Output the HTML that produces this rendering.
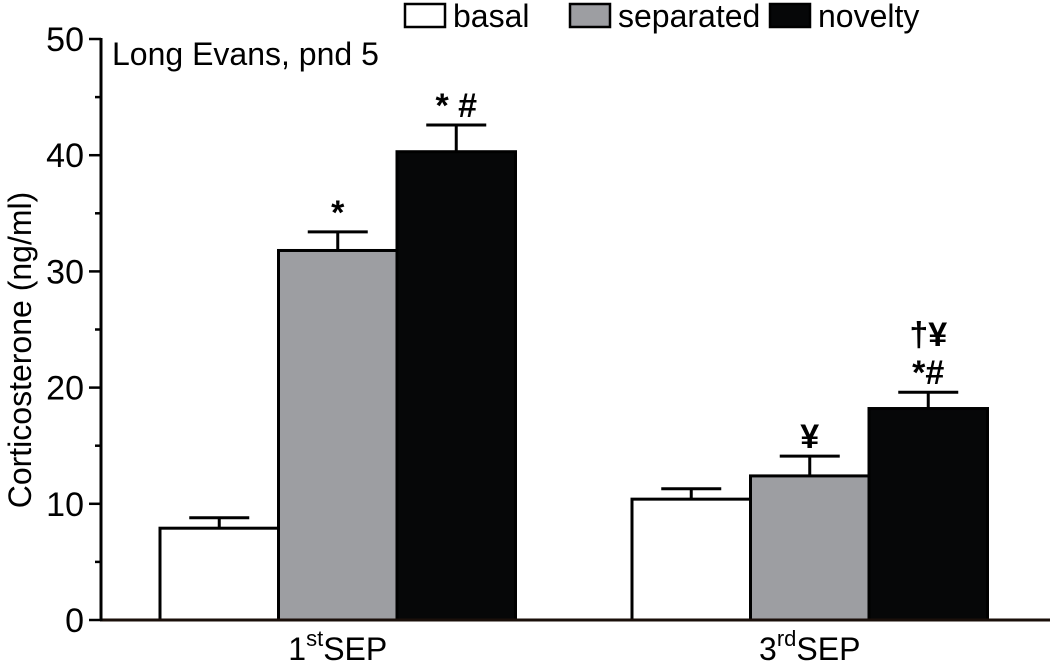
<!DOCTYPE html>
<html><head><meta charset="utf-8"><style>
html,body{margin:0;padding:0;background:#fff;}
svg{display:block;font-family:"Liberation Sans",Arial,sans-serif;}
</style></head><body>
<svg id="chart" width="1050" height="666" viewBox="0 0 1050 666"></svg>
<script>
const groups = ["1st SEP", "3rd SEP"];
const seriesNames = ["basal", "separated", "novelty"];
const basalVals = [7.9, 10.4];
const separatedVals = [31.8, 12.4];
const noveltyVals = [40.3, 18.2];
const basalErr = [0.9, 0.9];
const separatedErr = [1.6, 1.7];
const noveltyErr = [2.3, 1.4];
const annotations = [["", "*", "* #"], ["", "¥", "†¥\n*#"]];
const yTicks = [0, 10, 20, 30, 40, 50];

const NS = "http://www.w3.org/2000/svg";
const svg = document.getElementById("chart");
const y0 = 620, y50 = 39;
function y(v){ return y0 - (v/50)*(y0-y50); }
const groupStart = [160, 632];
const barW = 118.5;
const colors = ["#ffffff", "#9d9ea2", "#060708"];
function el(tag, attrs, parent){
  const e = document.createElementNS(NS, tag);
  for (const k in attrs) e.setAttribute(k, attrs[k]);
  (parent||svg).appendChild(e); return e;
}
const vals = [basalVals, separatedVals, noveltyVals];
const errs = [basalErr, separatedErr, noveltyErr];
for (let g=0; g<groups.length; g++){
  for (let s=0; s<3; s++){
    const x = groupStart[g] + s*barW;
    const v = vals[s][g], e = errs[s][g];
    const cx = x + barW/2;
    const ln = el("line",{x1:cx,x2:cx,y1:y(v),y2:y(v+e),stroke:"#000","stroke-width":3});
    
    
    const cap = el("line",{x1:cx-30,x2:cx+30,y1:y(v+e),y2:y(v+e),stroke:"#000","stroke-width":3});
    
    
    const r = el("rect",{x:x,y:y(v),width:barW,height:y0-y(v),fill:colors[s],stroke:"#000","stroke-width":3});
    
    
    const ann = annotations[g][s];
    if (ann){
      const lines = ann.split("\n");
      const topY = y(v+e) - 8;
      for (let i=0;i<lines.length;i++){
        const t = el("text",{x:cx,y:topY - (lines.length-1-i)*38,"text-anchor":"middle","font-size":34,"font-weight":"bold",fill:"#000"});
        t.textContent = lines[i];
        
        
      }
    }
  }
}
// axes
const xa = el("line",{x1:100,x2:1050,y1:y0,y2:y0,stroke:"#1a0f0a","stroke-width":3});


const ya = el("line",{x1:101,x2:101,y1:y50-1,y2:y0+1,stroke:"#000","stroke-width":3});


for (let v=0; v<=50; v+=5){
  const major = v%10===0;
  const t = el("line",{x1:major?89:95,x2:101,y1:y(v),y2:y(v),stroke:"#000","stroke-width":2.5});
  
  
}
for (const v of yTicks){
  const t = el("text",{x:84,y:y(v)+12,"text-anchor":"end","font-size":34,fill:"#000"});
  t.textContent = v;
  
  
}
const yt = el("text",{x:0,y:0,transform:"translate(31,350) rotate(-90)","text-anchor":"middle","font-size":32,fill:"#000"});
yt.textContent = "Corticosterone (ng/ml)";


const sups = [["1","st"],["3","rd"]];
for (let g=0; g<2; g++){
  const cx = groupStart[g] + 1.5*barW;
  const t = el("text",{x:cx,y:660,"text-anchor":"middle","font-size":32,fill:"#000"});
  
  
  const a = el("tspan",{},t); a.textContent = sups[g][0];
  const b = el("tspan",{"font-size":22,dy:-14},t); b.textContent = sups[g][1];
  const c = el("tspan",{dy:14},t); c.textContent = "SEP";
}
const title = el("text",{x:112,y:65,"font-size":32,fill:"#000"});
title.textContent = "Long Evans, pnd 5";


// legend
const legX = [405, 570, 770];
for (let s=0; s<3; s++){
  const r = el("rect",{x:legX[s],y:4,width:40,height:23,fill:colors[s],stroke:"#000","stroke-width":2.5});
  
  
  const t = el("text",{x:legX[s]+48,y:27,"font-size":32,fill:"#000"});
  t.textContent = seriesNames[s];
  
  
}
</script>
</body></html>
